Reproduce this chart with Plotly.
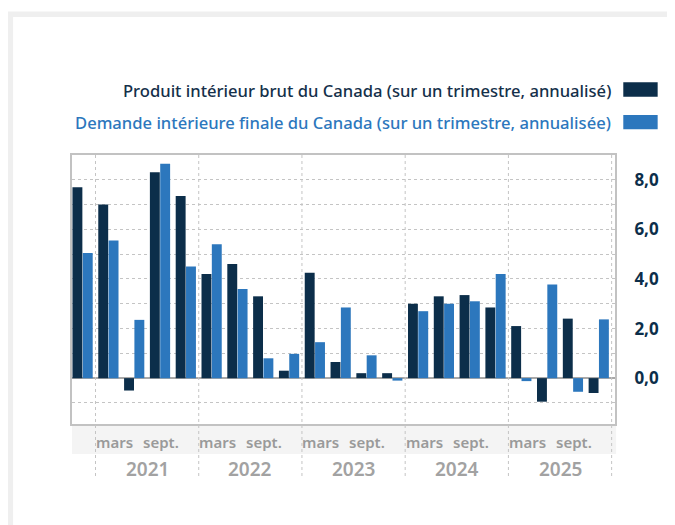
import plotly.graph_objects as go

# ---- data (quarterly, annualized %) ----
quarters = ["2020-12", "2021-03", "2021-06", "2021-09", "2021-12",
            "2022-03", "2022-06", "2022-09", "2022-12",
            "2023-03", "2023-06", "2023-09", "2023-12",
            "2024-03", "2024-06", "2024-09", "2024-12",
            "2025-03", "2025-06", "2025-09", "2025-12"]
gdp = [7.7, 7.0, -0.5, 8.3, 7.35,
       4.2, 4.6, 3.3, 0.3,
       4.25, 0.65, 0.2, 0.2,
       3.0, 3.3, 3.35, 2.85,
       2.1, -0.95, 2.4, -0.6]
fdd = [5.05, 5.55, 2.35, 8.65, 4.5,
       5.4, 3.6, 0.8, 0.98,
       1.45, 2.85, 0.92, -0.1,
       2.7, 3.0, 3.1, 4.2,
       -0.12, 3.78, -0.55, 2.37]
gdp_name = "Produit intérieur brut du Canada (sur un trimestre, annualisé)"
fdd_name = "Demande intérieure finale du Canada (sur un trimestre, annualisée)"
month_names = {"03": "mars", "09": "sept."}
y_ticks = [0, 2, 4, 6, 8]

NAVY = "#0c2e4a"
BLUE = "#2c77bd"
GRID = "#c4c4c4"

x = list(range(len(quarters)))

fig = go.Figure()
fig.add_trace(go.Bar(x=x, y=gdp, name=gdp_name, marker_color=NAVY,
                     marker_line_width=0, showlegend=False))
fig.add_trace(go.Bar(x=x, y=fdd, name=fdd_name, marker_color=BLUE,
                     marker_line_width=0, showlegend=False))

# page has an 8px body margin: figure is placed at (8, 8)
OFF = 8
W, H = 675 - OFF, 525 - OFF
# target pixel positions in the window
PL, PR, PT, PB = 71.5, 615, 155, 424
L, T = PL - OFF, PT - OFF
R, B = W - (PR - OFF), H - (PB - OFF)
pw, ph = PR - PL, PB - PT

def px_x(p):
    return (p - PL) / pw

def px_y(p):
    return 1 + (PT - p) / ph

shapes = []
annotations = []

# grey band under plot for month labels
shapes.append(dict(type="rect", xref="paper", yref="paper", x0=0, x1=1.002,
                   y0=px_y(454), y1=0, fillcolor="#f4f4f4", line_width=0,
                   layer="below"))

# year boundaries and labels
years = sorted(set(q[:4] for q in quarters))
for yr in years:
    idx = [i for i, q in enumerate(quarters) if q.startswith(yr)]
    if yr != years[0]:
        start = idx[0] - 0.5
        shapes.append(dict(type="line", xref="x", yref="paper", x0=start, x1=start,
                           y0=px_y(476), y1=1, line=dict(color=GRID, width=1, dash="dot"),
                           layer="above"))
    if len(idx) == 4:
        end = idx[-1] + 0.5
        if idx[-1] == len(quarters) - 1:
            shapes.append(dict(type="line", xref="x", yref="paper", x0=end, x1=end,
                               y0=px_y(476), y1=1, line=dict(color=GRID, width=1, dash="dot"),
                               layer="above"))
        annotations.append(dict(x=(idx[0] + idx[-1]) / 2, y=px_y(469), xref="x", yref="paper",
                                text=yr, showarrow=False, yanchor="middle",
                                font=dict(family="Noto Sans", size=19, color="#a2a2a2", weight=600)))

for i, q in enumerate(quarters):
    m = q[5:]
    if m in month_names and q[:4] in years[1:]:
        annotations.append(dict(x=i, y=px_y(441.5), xref="x", yref="paper",
                                text=month_names[m], showarrow=False, yanchor="middle",
                                xshift=6 if m == "03" else 1,
                                font=dict(family="Noto Sans", size=15, color="#9a9a9a", weight=600)))

# custom legend (right aligned text with swatches on the right)
for name, col, yc, (s0, s1) in [(gdp_name, "#15304a", 90, (82.3, 96.7)),
                                (fdd_name, BLUE, 122.5, (115, 129.3))]:
    annotations.append(dict(x=px_x(612.5), y=px_y(yc), xref="paper", yref="paper",
                            text=name, showarrow=False, xanchor="right", yanchor="middle",
                            font=dict(family="Noto Sans", size=16.6, color=col, weight=500)))
    shapes.append(dict(type="rect", xref="paper", yref="paper",
                       x0=px_x(623.3), x1=px_x(657.7), y0=px_y(s1), y1=px_y(s0),
                       fillcolor=NAVY if col != BLUE else BLUE, line_width=0))

# outer light frame
shapes.append(dict(type="rect", xref="paper", yref="paper",
                   x0=px_x(9.8), x1=px_x(700), y0=px_y(560), y1=px_y(14.3),
                   line=dict(color="#efefef", width=5.5), fillcolor="rgba(0,0,0,0)",
                   layer="below"))

fig.update_layout(
    width=W, height=H,
    margin=dict(l=L, r=R, t=T, b=B, pad=0),
    paper_bgcolor="white", plot_bgcolor="white",
    barmode="group", bargap=0.2, bargroupgap=0.04,
    separators=", ",
    shapes=shapes, annotations=annotations,
    font=dict(family="Noto Sans"),
)
fig.update_xaxes(range=[-0.41, len(quarters) - 0.37], showticklabels=False, ticks="",
                 showgrid=False, zeroline=False, showline=True, mirror=True,
                 linecolor="#c2c2c2", linewidth=2, fixedrange=True)
fig.update_yaxes(range=[-1.85, 9.0], side="right", tickvals=y_ticks, tickformat=".1f",
                 ticks="", ticklabelstandoff=14,
                 tickfont=dict(family="Noto Sans", size=17, color="#0c2e4a", weight=700),
                 showgrid=True, gridcolor=GRID, griddash="dot", gridwidth=1,
                 minor=dict(dtick=1, showgrid=True, gridcolor=GRID, griddash="dot", gridwidth=1),
                 zeroline=True, zerolinecolor="#a8a8a8", zerolinewidth=2,
                 showline=True, mirror=True, linecolor="#c2c2c2", linewidth=2)

fig.write_html("out.html")
